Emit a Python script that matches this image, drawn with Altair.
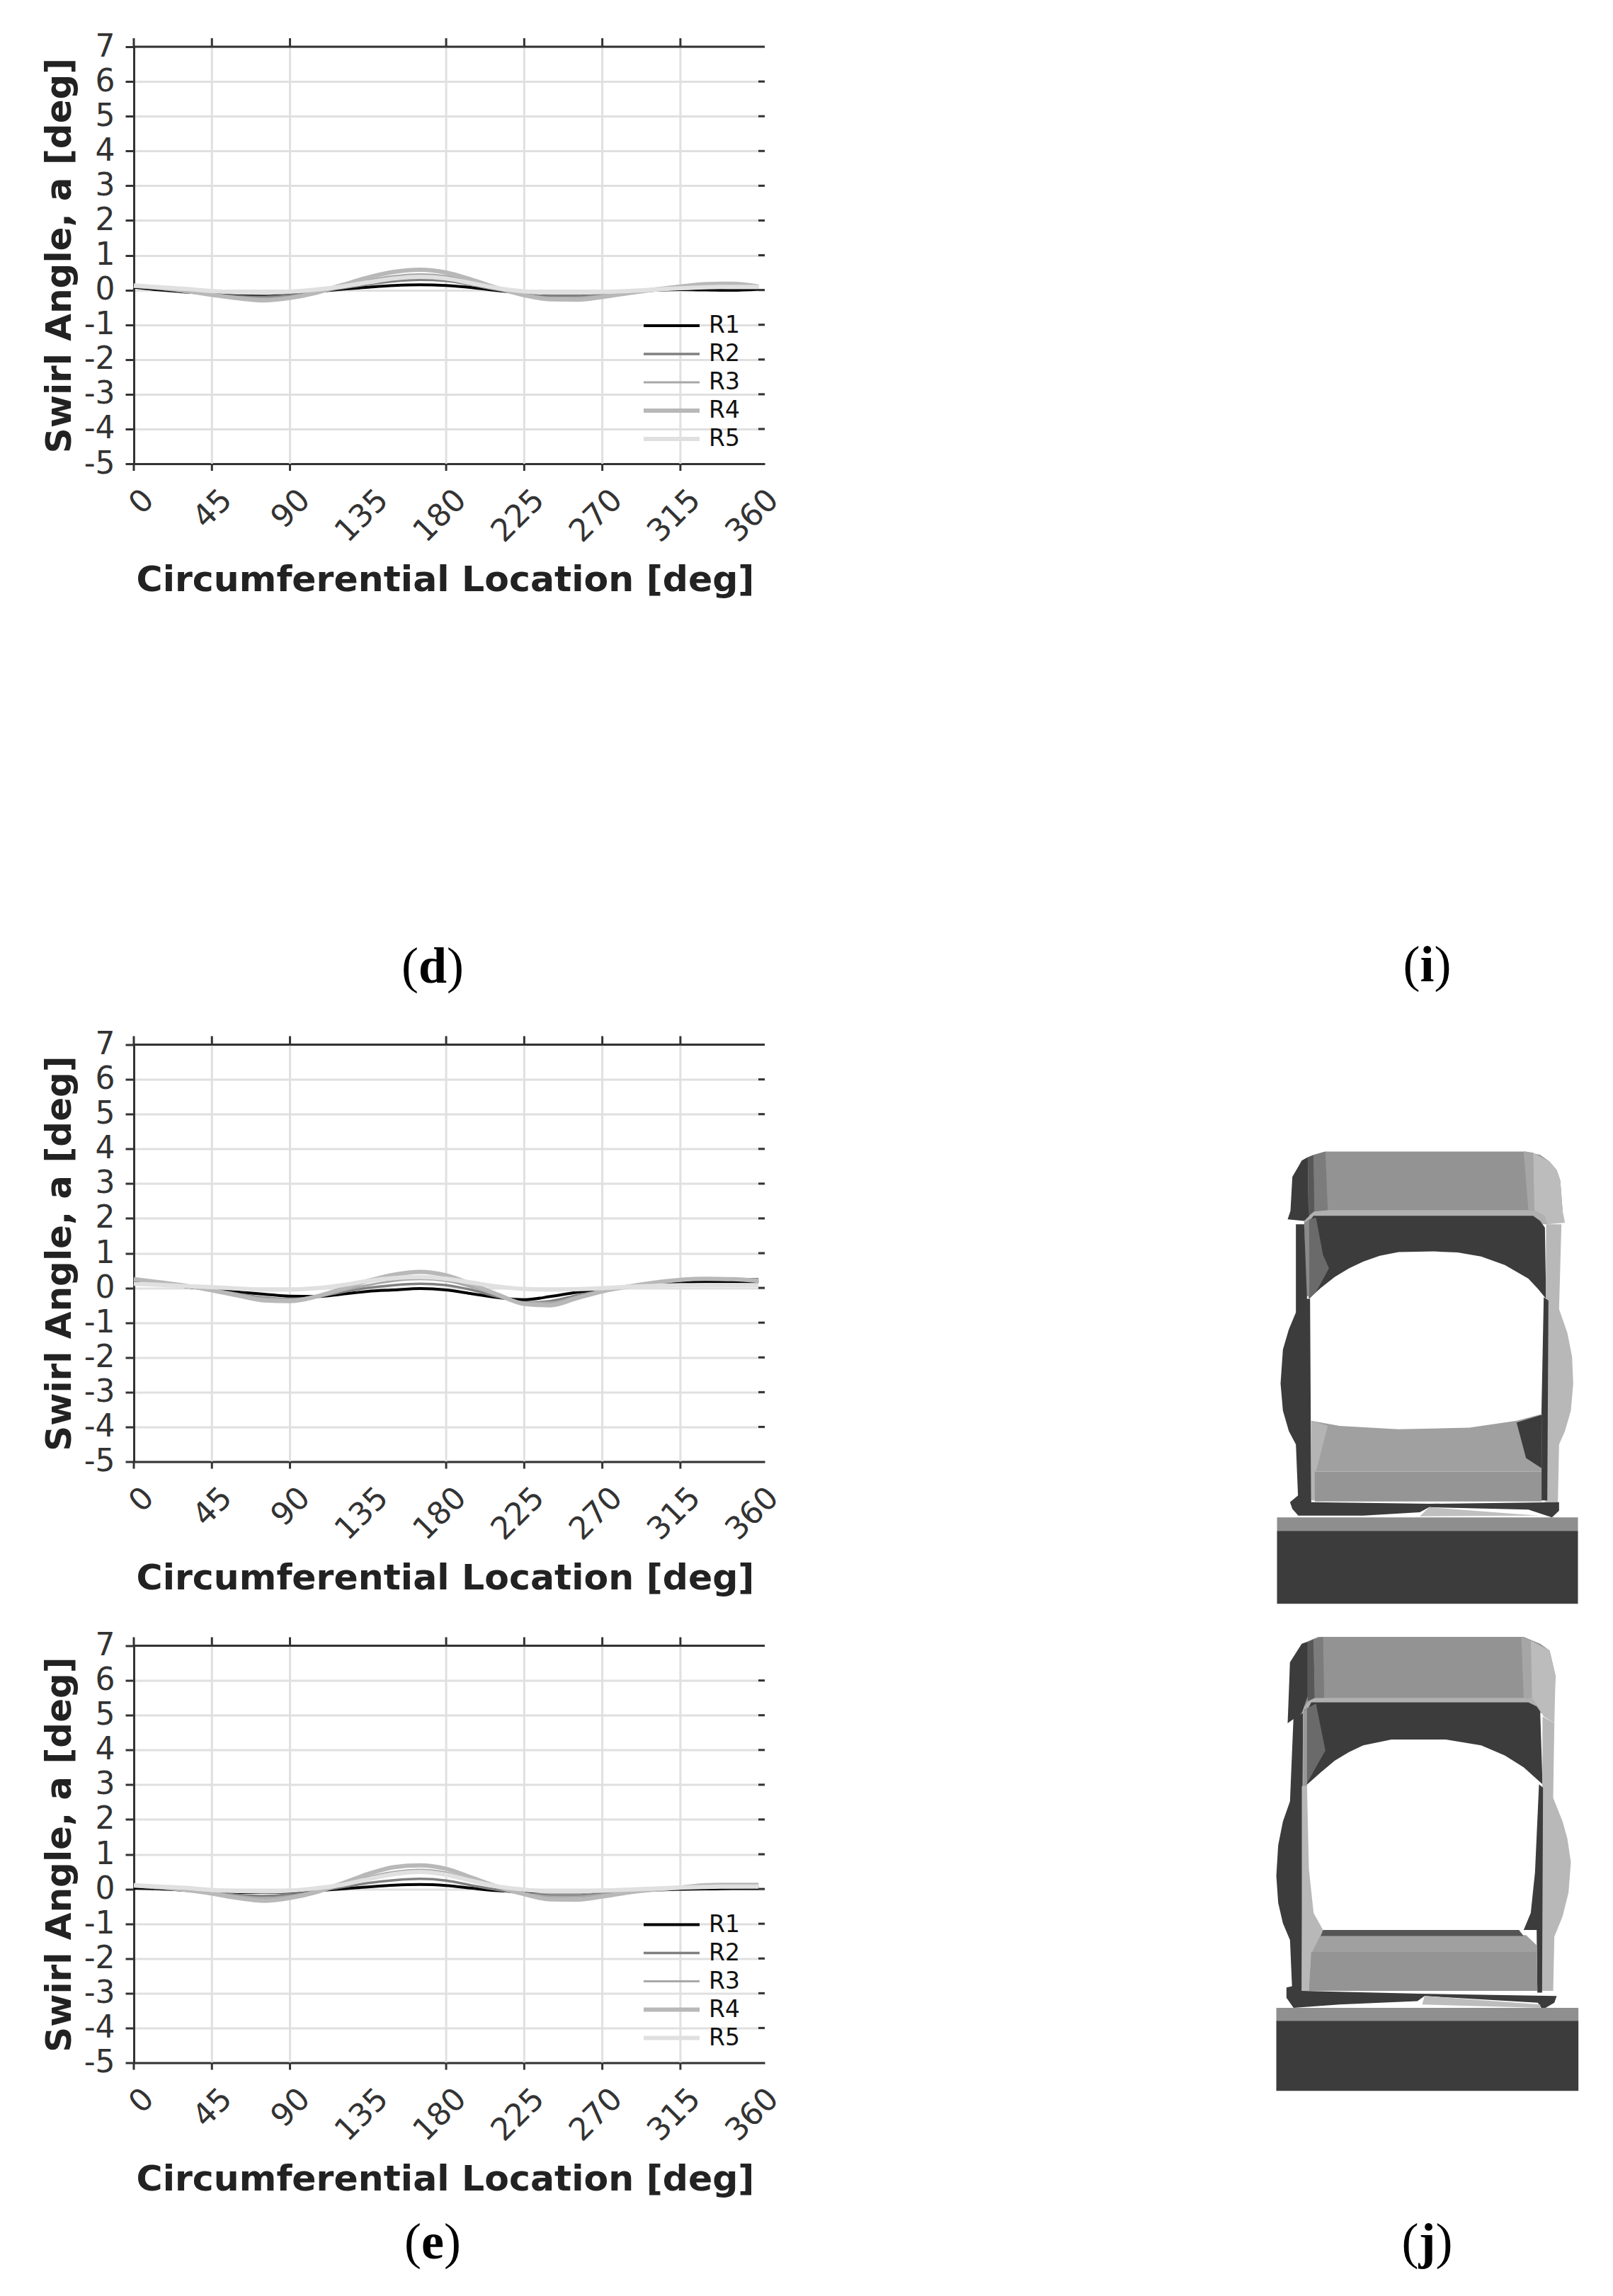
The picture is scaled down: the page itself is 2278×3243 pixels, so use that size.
import altair as alt
import pandas as pd

ANGLES = [0,15,30,45,60,75,90,105,120,135,150,165,180,195,210,225,240,255,270,285,300,315,330,345,360]
SERIES = ["R1","R2","R3","R4","R5"]
COLORS = ["#000000","#808080","#a8a8a8","#b8b8b8","#e0e0e0"]
WIDTHS = [4,3.5,3,6,6]

D_R1 = [0.08,0.00,-0.06,-0.10,-0.14,-0.15,-0.12,-0.05,0.02,0.08,0.13,0.15,0.13,0.07,-0.02,-0.09,-0.12,-0.12,-0.09,-0.05,-0.01,0.01,0.00,-0.01,0.02]
D_R2 = [0.10,0.03,-0.05,-0.12,-0.18,-0.20,-0.15,-0.06,0.05,0.16,0.25,0.29,0.26,0.14,0.00,-0.11,-0.18,-0.18,-0.13,-0.07,-0.01,0.05,0.07,0.06,0.06]
D_R3 = [0.10,0.05,-0.04,-0.13,-0.20,-0.24,-0.19,-0.07,0.10,0.28,0.40,0.45,0.40,0.23,0.03,-0.13,-0.22,-0.22,-0.16,-0.08,0.00,0.08,0.12,0.12,0.08]
D_R4 = [0.12,0.06,-0.03,-0.14,-0.24,-0.30,-0.23,-0.08,0.14,0.36,0.52,0.58,0.50,0.29,0.05,-0.15,-0.27,-0.28,-0.20,-0.09,0.01,0.10,0.17,0.18,0.10]
D_R5 = [0.13,0.08,0.03,-0.03,-0.07,-0.08,-0.05,0.01,0.10,0.22,0.33,0.38,0.33,0.19,0.05,-0.04,-0.08,-0.08,-0.06,-0.03,0.01,0.05,0.08,0.09,0.09]

M_R1 = [0.20,0.12,0.03,-0.05,-0.12,-0.18,-0.24,-0.25,-0.18,-0.10,-0.06,-0.02,-0.06,-0.17,-0.28,-0.34,-0.25,-0.13,-0.05,0.02,0.08,0.14,0.18,0.18,0.17]
M_R2 = [0.25,0.15,0.05,-0.05,-0.17,-0.28,-0.32,-0.26,-0.12,0.00,0.08,0.12,0.08,-0.06,-0.26,-0.42,-0.38,-0.22,-0.08,0.04,0.14,0.24,0.27,0.25,0.25]
M_R3 = [0.24,0.15,0.05,-0.06,-0.18,-0.30,-0.33,-0.25,-0.08,0.08,0.20,0.25,0.20,0.02,-0.22,-0.42,-0.42,-0.25,-0.09,0.04,0.14,0.22,0.25,0.24,0.22]
M_R4 = [0.25,0.16,0.06,-0.07,-0.22,-0.36,-0.38,-0.25,-0.03,0.20,0.38,0.46,0.36,0.10,-0.20,-0.46,-0.50,-0.30,-0.10,0.04,0.15,0.23,0.26,0.25,0.20]
M_R5 = [0.12,0.09,0.05,0.02,-0.02,-0.05,-0.05,-0.01,0.08,0.20,0.28,0.31,0.26,0.15,0.04,-0.03,-0.05,-0.04,-0.01,0.03,0.06,0.08,0.08,0.08,0.08]

E_R1 = [0.02,0.00,-0.04,-0.08,-0.10,-0.10,-0.09,-0.05,0.00,0.06,0.11,0.13,0.10,0.02,-0.05,-0.08,-0.09,-0.09,-0.07,-0.05,-0.03,-0.01,0.00,0.01,0.01]
E_R2 = [0.08,0.02,-0.04,-0.10,-0.17,-0.20,-0.16,-0.07,0.05,0.17,0.25,0.29,0.24,0.10,-0.03,-0.13,-0.18,-0.18,-0.13,-0.07,-0.03,0.01,0.04,0.05,0.06]
E_R3 = [0.09,0.04,-0.03,-0.11,-0.20,-0.26,-0.20,-0.07,0.12,0.34,0.49,0.55,0.47,0.25,0.04,-0.12,-0.22,-0.22,-0.16,-0.08,-0.02,0.03,0.07,0.08,0.08]
E_R4 = [0.10,0.05,-0.03,-0.13,-0.26,-0.34,-0.26,-0.09,0.16,0.43,0.63,0.68,0.58,0.32,0.06,-0.15,-0.30,-0.31,-0.22,-0.10,-0.02,0.04,0.11,0.12,0.12]
E_R5 = [0.11,0.07,0.03,-0.03,-0.06,-0.07,-0.05,0.02,0.12,0.28,0.43,0.49,0.41,0.23,0.07,-0.02,-0.07,-0.07,-0.05,-0.02,0.01,0.04,0.06,0.07,0.07]

Y_TICKS = [7,6,5,4,3,2,1,0,-1,-2,-3,-4,-5]
X_LABELS = [0,45,90,135,180,225,270,315,360]
X_GRID = [45,90,180,225,270,315]
X_TICKS = [0,45,90,180,225,270,315]

# Outlines of the two grey renderings on the right (fill, ring)
J1_SHAPES = [
 ("#b0b0b0",[(250,260),(1290,260),(1290,310),(250,310)]),
 ("#939393",[(200,270),(205,170),(240,122),(290,105),(340,95),(1190,95),(1250,105),(1290,125),(1320,150),(1335,180),(1345,270),(1200,268),(300,268),(250,290)]),
 ("#3c3c3c",[(180,295),(192,270),(200,170),(240,122),(265,112),(268,250),(272,285),(250,300)]),
 ("#585858",[(265,112),(290,105),(295,270),(270,285)]),
 ("#7c7c7c",[(290,105),(340,95),(350,268),(293,272)]),
 ("#a6a6a6",[(1180,95),(1220,98),(1225,268),(1200,268)]),
 ("#bcbcbc",[(1220,98),(1290,125),(1320,150),(1335,180),(1345,270),(1355,305),(1280,310),(1270,285),(1225,268)]),
 ("#3c3c3c",[(290,285),(1220,285),(1250,300),(1270,320),(1275,530),(1240,500),(1200,470),(1100,430),(1000,405),(900,393),(800,390),(650,392),(570,403),(500,420),(440,440),(380,465),(320,498),(270,530),(260,310)]),
 ("#8a8a8a",[(250,305),(272,295),(275,520),(255,525)]),
 ("#6a6a6a",[(272,295),(300,290),(330,400),(355,440),(300,510),(272,530)]),
 ("#3c3c3c",[(215,310),(250,310),(262,530),(275,530),(280,1130),(225,1130),(215,960),(185,920),(160,860),(150,780),(160,680),(185,620),(215,570)]),
 ("#b8b8b8",[(1275,310),(1340,310),(1330,560),(1365,630),(1385,700),(1390,780),(1380,860),(1355,920),(1330,960),(1325,1130),(1270,1130)]),
 ("#3c3c3c",[(1265,525),(1285,535),(1280,1125),(1255,1125),(1255,880)]),
 ("#a0a0a0",[(280,890),(400,905),(650,915),(950,910),(1150,890),(1258,870),(1256,1040),(280,1040)]),
 ("#b4b4b4",[(280,890),(350,905),(300,1040),(295,1125),(280,1125)]),
 ("#3c3c3c",[(1150,895),(1258,872),(1256,1030),(1190,1000)]),
 ("#959595",[(295,1040),(1256,1040),(1256,1128),(295,1128)]),
 ("#3c3c3c",[(190,1130),(225,1110),(280,1130),(780,1135),(1330,1130),(1330,1155),(1300,1175),(1200,1152),(780,1145),(740,1160),(500,1170),(225,1170),(200,1150)]),
 ("#bfbfbf",[(780,1145),(1240,1170),(740,1172)]),
 ("#8e8e8e",[(135,1175),(1410,1175),(1410,1215),(135,1215)]),
 ("#3c3c3c",[(135,1215),(1410,1215),(1410,1430),(135,1430)]),
]
J2_SHAPES = [
 ("#b0b0b0",[(240,235),(1260,235),(1260,290),(240,290)]),
 ("#939393",[(190,240),(190,140),(240,85),(310,65),(1180,65),(1250,85),(1290,105),(1315,180),(1310,240),(1200,245),(280,245),(240,280)]),
 ("#3c3c3c",[(180,320),(190,140),(240,85),(265,80),(265,240),(240,290)]),
 ("#585858",[(265,80),(290,72),(295,245),(265,255)]),
 ("#7c7c7c",[(290,72),(330,65),(335,245),(295,245)]),
 ("#a6a6a6",[(1170,65),(1210,75),(1215,245),(1180,245)]),
 ("#bcbcbc",[(1210,75),(1290,105),(1315,180),(1310,320),(1265,300),(1240,270),(1215,245)]),
 ("#3c3c3c",[(280,258),(1200,258),(1235,270),(1250,285),(1260,500),(1180,450),(1100,415),(1000,385),(850,368),(620,368),(500,385),(440,405),(380,430),(320,465),(255,505),(250,300)]),
 ("#6a6a6a",[(250,280),(300,262),(340,400),(255,505)]),
 ("#3c3c3c",[(205,300),(245,290),(240,1120),(200,1120),(190,960),(160,910),(140,850),(132,770),(140,680),(160,610),(190,550)]),
 ("#b8b8b8",[(240,505),(262,505),(270,750),(290,880),(330,930),(320,960),(280,1000),(270,1110),(240,1110)]),
 ("#999999",[(245,290),(262,270),(262,505),(245,505)]),
 ("#b8b8b8",[(1260,300),(1310,320),(1305,540),(1345,610),(1365,660),(1380,730),(1370,820),(1345,890),(1310,950),(1305,1110),(1255,1110)]),
 ("#3c3c3c",[(1245,500),(1262,510),(1258,1115),(1238,1115),(1235,930),(1180,930),(1210,880),(1228,760)]),
 ("#a0a0a0",[(320,945),(1190,945),(1235,975),(1238,1110),(270,1110),(280,1000)]),
 ("#555555",[(330,930),(1160,930),(1180,948),(320,948)]),
 ("#949494",[(280,995),(1235,995),(1238,1110),(270,1110)]),
 ("#3c3c3c",[(175,1100),(205,1095),(240,1110),(740,1118),(1320,1125),(1310,1145),(1260,1165),(1240,1145),(760,1125),(730,1140),(400,1150),(205,1160),(175,1130)]),
 ("#bdbdbd",[(760,1125),(1250,1150),(1250,1160),(750,1150)]),
 ("#8f8f8f",[(132,1160),(1412,1160),(1412,1198),(132,1198)]),
 ("#3c3c3c",[(132,1198),(1412,1198),(1412,1405),(132,1405)]),
]

PLOT_W, PLOT_H = 891, 589
DOMAIN_X = [0, 363.6]
FONT = "DejaVu Sans"
CAP_FONT = "Liberation Serif"
CAP_SIZE = 72
LETTER_W = {"d": 40, "e": 32, "i": 20, "j": 24}


def caption(letter, cx, cy):
    half = LETTER_W[letter] / 2
    return [
        alt.Chart(alt.Data(values=[{"t": "("}])).mark_text(font=CAP_FONT, fontSize=CAP_SIZE, align="right", baseline="middle", color="#000").encode(
            x=alt.value(cx - half), y=alt.value(cy), text="t:N"),
        alt.Chart(alt.Data(values=[{"t": letter}])).mark_text(font=CAP_FONT, fontSize=CAP_SIZE, fontWeight="bold", align="center", baseline="middle", color="#000").encode(
            x=alt.value(cx), y=alt.value(cy), text="t:N"),
        alt.Chart(alt.Data(values=[{"t": ")"}])).mark_text(font=CAP_FONT, fontSize=CAP_SIZE, align="left", baseline="middle", color="#000").encode(
            x=alt.value(cx + half), y=alt.value(cy), text="t:N"),
    ]


def panel(rows, caption_letter=None):
    df = pd.DataFrame([
        {"angle": a, "swirl": v, "series": s}
        for s, vals in zip(SERIES, rows) for a, v in zip(ANGLES, vals)
    ])
    xs = alt.Scale(domain=DOMAIN_X, nice=False, zero=False)
    ys = alt.Scale(domain=[-5, 7], nice=False, zero=False)
    gx = pd.DataFrame({"x": X_GRID})
    tx = pd.DataFrame({"x": X_TICKS})
    ty = pd.DataFrame({"y": Y_TICKS})

    grid = alt.Chart(gx).mark_rule(color="#e0e0e0", strokeWidth=3).encode(
        x=alt.X("x:Q", scale=xs, title="Circumferential Location [deg]", axis=alt.Axis(
            values=X_LABELS, ticks=False, grid=False, domainColor="#333333", domainWidth=3,
            labelFont=FONT, labelFontSize=44, labelColor="#333333", labelAngle=315,
            labelAlign="right", labelBaseline="middle", labelOffset=21, labelPadding=44,
            labelOverlap=False, labelFlush=False, labelBound=False,
            titleFont=FONT, titleFontSize=50.5, titleFontWeight="bold", titleColor="#222222",
            titlePadding=21, titleX=PLOT_W / 2 - 6)),
        y=alt.value(0), y2=alt.value(PLOT_H),
    )
    y_axis_layer = alt.Chart(ty).mark_tick(opacity=0).encode(
        y=alt.Y("y:Q", scale=ys, title="Swirl Angle, a [deg]", axis=alt.Axis(
            values=Y_TICKS, grid=True, gridColor="#e0e0e0", gridWidth=3, tickColor="#333333",
            tickWidth=3, tickSize=12, domainColor="#333333", domainWidth=3,
            labelExpr="'' + datum.value",
            labelFont=FONT, labelFontSize=44, labelColor="#333333", labelPadding=15, labelOverlap=False,
            labelFlush=False, labelBound=False,
            titleFont=FONT, titleFontSize=50, titleFontWeight="bold", titleColor="#222222", titlePadding=9)),
    )
    top_ticks = alt.Chart(tx).mark_rule(color="#333333", strokeWidth=3).encode(
        x=alt.X("x:Q", scale=xs), y=alt.value(-12), y2=alt.value(0))
    bot_ticks = alt.Chart(tx).mark_rule(color="#333333", strokeWidth=3).encode(
        x=alt.X("x:Q", scale=xs), y=alt.value(PLOT_H), y2=alt.value(PLOT_H + 10))
    top_line = alt.Chart(pd.DataFrame({"y": [7]})).mark_rule(color="#333333", strokeWidth=3).encode(
        y=alt.Y("y:Q", scale=ys), x=alt.value(0), x2=alt.value(PLOT_W))
    right_ticks = alt.Chart(ty[(ty.y > -5) & (ty.y < 7)]).mark_rule(color="#333333", strokeWidth=3).encode(
        y=alt.Y("y:Q", scale=ys), x=alt.value(PLOT_W - 9), x2=alt.value(PLOT_W))
    legend = alt.Legend(orient="none", legendX=717, legendY=374, title=None, symbolType="stroke",
                        symbolSize=6241, labelFont=FONT, labelFontSize=33, labelColor="#111111",
                        labelOffset=10, rowPadding=0, clipHeight=40, symbolOpacity=1)
    lines = alt.Chart(df).mark_line(interpolate="monotone", strokeCap="butt").encode(
        x=alt.X("angle:Q", scale=xs),
        y=alt.Y("swirl:Q", scale=ys),
        color=alt.Color("series:N", scale=alt.Scale(domain=SERIES, range=COLORS), legend=legend),
        strokeWidth=alt.StrokeWidth("series:N", scale=alt.Scale(type="ordinal", domain=SERIES, range=WIDTHS), legend=legend),
        order=alt.Order("angle:Q"),
    )
    layers = [y_axis_layer, grid, top_line, top_ticks, bot_ticks, right_ticks, lines]
    if caption_letter:
        layers += caption(caption_letter, 422, 1300 if caption_letter == "d" else 843)
    return alt.layer(*layers).properties(width=PLOT_W, height=PLOT_H)


# Right column: page position of its top-left corner
RIGHT_ORIGIN_X, RIGHT_ORIGIN_Y = 1109.5, 68
RIGHT_W, RIGHT_H = 1150, 3150
ZX, ZY = 3.0, 2.09


def feats(shapes, ox, oy):
    out = []
    for fill, ring in shapes:
        pts = [[ox + x / ZX - RIGHT_ORIGIN_X, oy + y / ZY - RIGHT_ORIGIN_Y] for x, y in ring]
        pts.append(pts[0])
        out.append({"type": "Feature", "properties": {"fill": fill},
                    "geometry": {"type": "Polygon", "coordinates": [pts]}})
    return out


features = feats(J1_SHAPES, 1760, 1583) + feats(J2_SHAPES, 1760, 2283)
photos = alt.Chart(alt.InlineData(values={"type": "FeatureCollection", "features": features},
                                  format=alt.DataFormat(type="json", property="features"))).mark_geoshape(strokeWidth=0).encode(
    color=alt.Color("properties.fill:N", scale=None, legend=None)
).project(type="identity", scale=1, translate=[0, 0])

right = alt.layer(
    photos,
    *caption("i", 2017 - RIGHT_ORIGIN_X, 1366 - RIGHT_ORIGIN_Y),
    *caption("j", 2017 - RIGHT_ORIGIN_X, 3170 - RIGHT_ORIGIN_Y),
).properties(width=RIGHT_W, height=RIGHT_H)

upper = alt.vconcat(
    panel([D_R1, D_R2, D_R3, D_R4, D_R5], "d"),
    panel([M_R1, M_R2, M_R3, M_R4, M_R5]),
    spacing=51.5,
)
left = alt.vconcat(
    upper,
    panel([E_R1, E_R2, E_R3, E_R4, E_R5], "e"),
    spacing=47.5,
).resolve_scale(color="independent", strokeWidth="independent")

chart = alt.hconcat(left, right, spacing=0).properties(
    padding={"left": 51, "top": 36, "right": 0, "bottom": 0},
    background="white",
).configure_view(stroke=None)

chart.save("out.html", embed_options={"renderer": "svg", "actions": False})
